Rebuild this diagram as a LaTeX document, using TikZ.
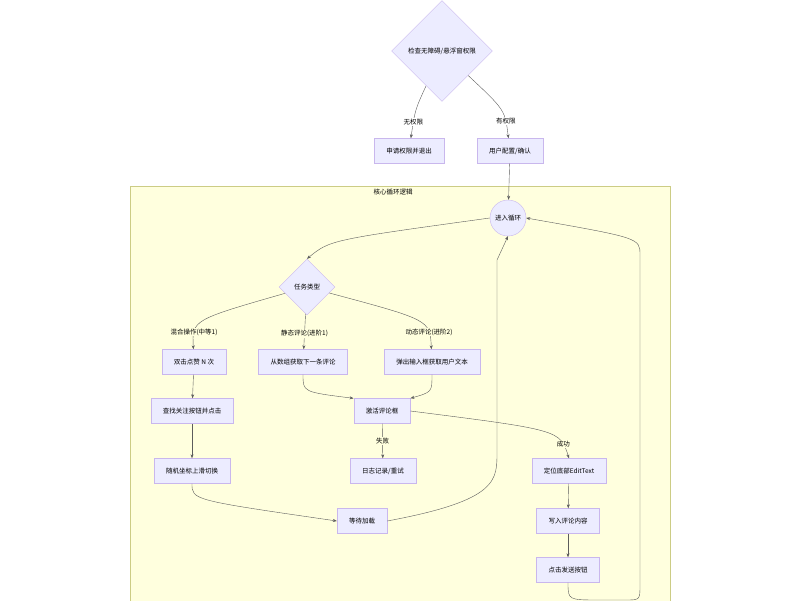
\documentclass[tikz,border=0pt]{standalone}
\usepackage{fontspec}
\setmainfont{Noto Sans CJK SC}
\usetikzlibrary{shapes.geometric, arrows.meta, positioning, backgrounds}
\definecolor{nodeFill}{HTML}{ECECFF}
\definecolor{nodeDraw}{HTML}{9370DB}
\definecolor{clusterFill}{HTML}{FFFFDE}
\definecolor{clusterDraw}{HTML}{AAAA33}
\definecolor{lineGray}{HTML}{333333}
\tikzset{
    % Base Block Style
    flowStep/.style={rectangle, draw=nodeDraw!50, fill=nodeFill, minimum height=25pt,
        inner xsep=12pt, font=\fontsize{6.5}{8}\selectfont},
    decide/.style={diamond, aspect=1, draw=nodeDraw!50, fill=nodeFill, inner sep=1pt,
        font=\fontsize{6.5}{8}\selectfont},
    loopStart/.style={circle, draw=nodeDraw!50, fill=nodeFill, minimum size=36pt,
        inner sep=0pt, font=\fontsize{6.5}{8}\selectfont},
    % Arrow & Label Styles
    arrow/.style={-{Stealth[length=4pt,width=3pt]}, draw=lineGray!80},
    edgeLabel/.style={font=\fontsize{6.5}{8}\selectfont, fill=clusterFill, inner sep=1pt},
    topLabel/.style={font=\fontsize{6.5}{8}\selectfont, fill=white, inner sep=1pt}
}
\begin{document}
\begin{tikzpicture}[x=1pt, y=-1pt]
    \useasboundingbox (0,0) rectangle (800,600);

    % --- Cluster ---
    \node (cluster) [draw=clusterDraw!60, fill=clusterFill, minimum width=540pt, minimum height=430pt,
        anchor=north west, inner sep=0pt] at (130,186) {};
    \node [font=\fontsize{6.5}{8}\selectfont] at (393,192) {核心循环逻辑};

    % --- Permission check ---
    \node (check) [decide, minimum size=101pt] at (442,51) {检查无障碍/悬浮窗权限};
    \node (deny) [flowStep] at (409,151) {申请权限并退出};
    \node (allow) [flowStep] at (510,151) {用户配置/确认};

    % --- Core loop ---
    \node (enter) [loopStart] at (508,218) {进入循环};
    \node (task) [decide, minimum size=56pt] at (307,287) {任务类型};
    \node (like) [flowStep] at (194,362) {双击点赞 N 次};
    \node (fetch) [flowStep] at (303,362) {从数组获取下一条评论};
    \node (popup) [flowStep] at (432,362) {弹出输入框获取用户文本};
    \node (follow) [flowStep] at (192,411) {查找关注按钮并点击};
    \node (activate) [flowStep] at (382,411) {激活评论框};
    \node (swipe) [flowStep] at (192,471) {随机坐标上滑切换};
    \node (log) [flowStep] at (383,471) {日志记录/重试};
    \node (locate) [flowStep] at (569,471) {定位底部EditText};
    \node (wait) [flowStep] at (362,521) {等待加载};
    \node (write) [flowStep] at (568,521) {写入评论内容};
    \node (send) [flowStep] at (568,570) {点击发送按钮};

    % --- Arrows ---
    \draw [arrow] (check) .. controls (415,110) .. node[topLabel, pos=0.75] {无权限} (deny);
    \draw [arrow] (check) .. controls (505,110) .. node[topLabel, pos=0.75] {有权限} (allow);
    \draw [arrow] (allow) -- (enter);
    \draw [arrow] (enter.west) .. controls (330,240) .. (task.north);
    \draw [arrow] (task) .. controls (192,320) .. node[edgeLabel, pos=0.75] {混合操作(中等1)} (like);
    \draw [arrow] (task) -- node[edgeLabel, pos=0.55] {静态评论(进阶1)} (fetch);
    \draw [arrow] (task) .. controls (430,320) .. node[edgeLabel, pos=0.75] {动态评论(进阶2)} (popup);
    \draw [arrow] (like) -- (follow);
    \draw [arrow] (follow) -- (swipe);
    \draw [arrow] (fetch.south) .. controls (303,392) .. (activate.north west);
    \draw [arrow] (popup.south) .. controls (432,392) .. (activate.north east);
    \draw [arrow] (activate) -- node[edgeLabel] {失败} (log);
    \draw [arrow] (activate.east) .. controls (560,430) .. node[edgeLabel, pos=0.8] {成功} (locate.north);
    \draw [arrow] (locate) -- (write);
    \draw [arrow] (write) -- (send);
    \draw [arrow] (swipe.south) .. controls (192,500) .. (wait.west);
    \draw [arrow] (wait.east) .. controls (500,500) and (497,480) .. (497,450) -- (497,260) -- (enter.south);
    \draw [arrow] (send.south) .. controls (568,600) .. (600,600) -- (625,600)
        .. controls (640,600) .. (640,585) -- (640,255) .. controls (640,238) .. (enter.east);
\end{tikzpicture}
\end{document}
